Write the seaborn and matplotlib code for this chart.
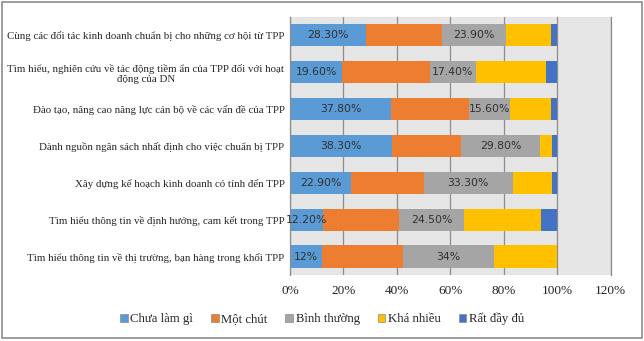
import matplotlib
matplotlib.use("Agg")
import matplotlib.pyplot as plt
import matplotlib.patches as mpatches
import seaborn as sns
import pandas as pd
import numpy as np

categories = [
    "Cùng các đối tác kinh doanh chuẩn bị cho những cơ hội từ TPP",
    "Tìm hiểu, nghiên cứu về tác động tiềm ẩn của TPP đối với hoạt\nđộng của DN",
    "Đào tạo, nâng cao năng lực cán bộ về các vấn đề của TPP",
    "Dành nguồn ngân sách nhất định cho việc chuẩn bị TPP",
    "Xây dựng kế hoạch kinh doanh có tính đến TPP",
    "Tìm hiểu thông tin về định hướng, cam kết trong TPP",
    "Tìm hiểu thông tin về thị trường, bạn hàng trong khối TPP",
]
series_names = ["Chưa làm gì", "Một chút", "Bình thường", "Khá nhiều", "Rất đầy đủ"]
chua_lam_gi = [28.3, 19.6, 37.8, 38.3, 22.9, 12.2, 12.0]
mot_chut = [28.5, 32.6, 29.1, 25.6, 27.1, 28.5, 30.2]
binh_thuong = [23.9, 17.4, 15.6, 29.8, 33.3, 24.5, 34.0]
kha_nhieu = [17.1, 26.2, 15.1, 4.2, 14.7, 28.7, 23.8]
rat_day_du = [2.2, 4.2, 2.4, 2.1, 2.0, 6.1, 0.0]
blue_labels = ["28.30%", "19.60%", "37.80%", "38.30%", "22.90%", "12.20%", "12%"]
gray_labels = ["23.90%", "17.40%", "15.60%", "29.80%", "33.30%", "24.50%", "34%"]
xticks = [0, 20, 40, 60, 80, 100, 120]
xtick_labels = ["0%", "20%", "40%", "60%", "80%", "100%", "120%"]

colors = ["#5B9BD5", "#ED7D31", "#A5A5A5", "#FFC000", "#4472C4"]

sns.set_style("white")
plt.rcParams["font.family"] = ["Liberation Serif", "DejaVu Serif"]

fig = plt.figure(figsize=(6.44, 3.41), dpi=100)
ax = fig.add_axes([290 / 644, 1 - 275 / 341, (610.7 - 290) / 644, (275 - 16.7) / 341])
ax.set_facecolor("#E6E6E6")

series = [chua_lam_gi, mot_chut, binh_thuong, kha_nhieu, rat_day_du]
cum = np.cumsum(np.array(series), axis=0)
# draw cumulative totals from the largest to the smallest so each stack segment shows
for i in range(len(series) - 1, -1, -1):
    df = pd.DataFrame({"cat": categories, "val": cum[i]})
    sns.barplot(data=df, x="val", y="cat", order=categories, color=colors[i],
                saturation=1, width=0.6, orient="h", ax=ax, linewidth=0)

# data labels for first and third series
starts = np.vstack([np.zeros(len(categories)), cum[:-1]])
for j in range(len(categories)):
    ax.text(starts[0][j] + chua_lam_gi[j] / 2, j, blue_labels[j], ha="center", va="center",
            fontsize=7.8, family="DejaVu Sans", color="#303030")
    ax.text(starts[2][j] + binh_thuong[j] / 2, j, gray_labels[j], ha="center", va="center",
            fontsize=7.8, family="DejaVu Sans", color="#303030")

ax.set_xlim(0, 120)
ax.set_ylim(len(categories) - 0.5, -0.5)
ax.set_xticks(xticks)
ax.set_xticklabels(xtick_labels, fontsize=9.5)
ax.set_xlabel("")
ax.set_ylabel("")
ax.set_axisbelow(True)
ax.xaxis.grid(True, color="#8C8C8C", linewidth=0.9)
ax.yaxis.grid(False)
for s in ["top", "bottom"]:
    ax.spines[s].set_visible(False)
for s in ["left", "right"]:
    ax.spines[s].set_visible(True)
    ax.spines[s].set_color("#8C8C8C")
    ax.spines[s].set_linewidth(0.9)
ax.tick_params(axis="both", length=0)
ax.tick_params(axis="x", pad=7, colors="#222222")
ax.tick_params(axis="y", pad=4)
for lbl in ax.get_yticklabels():
    lbl.set_fontsize(7.8)
    lbl.set_multialignment("center")

handles = [mpatches.Patch(facecolor=c, edgecolor="#8C8C8C", linewidth=0.5) for c in colors]
fig.legend(handles, series_names, loc="center", bbox_to_anchor=(0.5, 1 - 319 / 341), ncol=5,
           frameon=False, fontsize=9.2, handlelength=0.6, handleheight=0.6,
           handletextpad=0.2, columnspacing=1.4)

border = mpatches.Rectangle((2 / 644, 3 / 341), 640 / 644, 336 / 341, transform=fig.transFigure,
                            fill=False, edgecolor="#8C8C8C", linewidth=1.2)
fig.patches.append(border)

fig.savefig("out.png", dpi=100)
